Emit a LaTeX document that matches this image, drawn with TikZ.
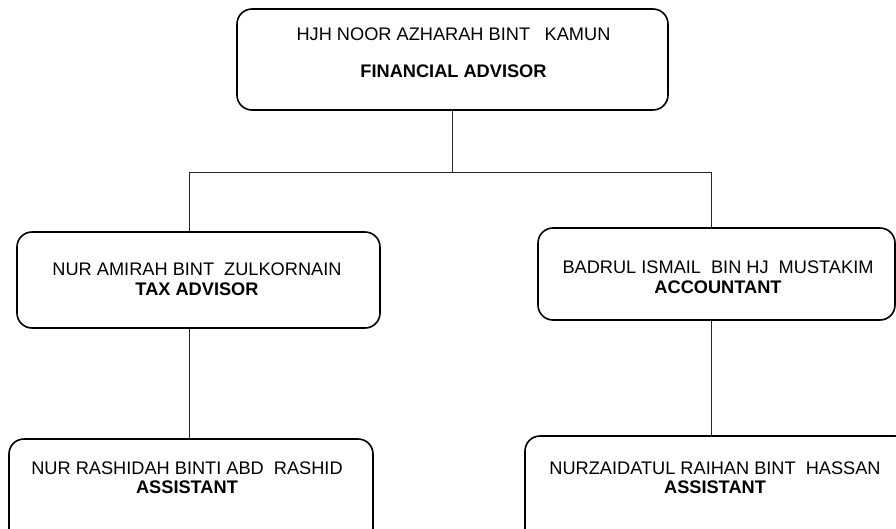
\documentclass[tikz,border=0pt]{standalone}
\usepackage{fontspec}
\setmainfont{Liberation Sans}
\usetikzlibrary{positioning}

\newcommand{\wgap}{\hspace{0.55em}}

\begin{document}
\begin{tikzpicture}[x=1pt,y=-1pt,
		%Option for the boxes%
		staffbox/.style={draw=black,line width=1.6pt,rounded corners=15pt,inner sep=0pt},%
		nametext/.style={align=center,inner sep=0pt,font=\fontsize{18.2}{19.5}\selectfont},%
		link/.style={draw=black!85,line width=0.9pt}%
		]
		\useasboundingbox (0,0) rectangle (896,528);
		\clip (0,0) rectangle (896,528);
		%% boxes
		\node[staffbox,minimum width=431pt,minimum height=101pt] (fa) at (452.5,59.5) {};
		\node[staffbox,minimum width=363pt,minimum height=96pt] (tax) at (198.5,280) {};
		\node[staffbox,minimum width=357pt,minimum height=92pt] (acc) at (716.5,274) {};
		\node[staffbox,minimum width=364pt,minimum height=106pt] (asstL) at (191,492) {};
		\node[staffbox,minimum width=385pt,minimum height=109pt] (asstR) at (717.5,490.5) {};
		%% texts
		\node[nametext] (faText) at (453.5,52.5)
			{HJH NOOR AZHARAH BINT\hspace{0.8em}KAMUN\\[18pt]\textbf{FINANCIAL ADVISOR}};
		\node[nametext] (taxText) at (197,279)
			{NUR AMIRAH BINT\wgap ZULKORNAIN\\\textbf{TAX ADVISOR}};
		\node[nametext] (accText) at (718,277)
			{BADRUL ISMAIL\wgap BIN HJ\wgap MUSTAKIM\\\textbf{ACCOUNTANT}};
		\node[nametext] (asstLText) at (187,477.5)
			{NUR RASHIDAH BINTI ABD\wgap RASHID\\\textbf{ASSISTANT}};
		\node[nametext] (asstRText) at (715,477.5)
			{NURZAIDATUL RAIHAN BINT\wgap HASSAN\\\textbf{ASSISTANT}};
		%% connectors
		\coordinate (busL) at (189,172);
		\coordinate (busR) at (711.5,172);
		\draw[link] (fa.south) -- (fa.south |- busL);
		\draw[link] (busL) -- (busR);
		\draw[link] (busL) -- (busL |- tax.north);
		\draw[link] (busR) -- (busR |- acc.north);
		\draw[link] (busL |- tax.south) -- (busL |- asstL.north);
		\draw[link] (busR |- acc.south) -- (busR |- asstR.north);
	\end{tikzpicture}
\end{document}
